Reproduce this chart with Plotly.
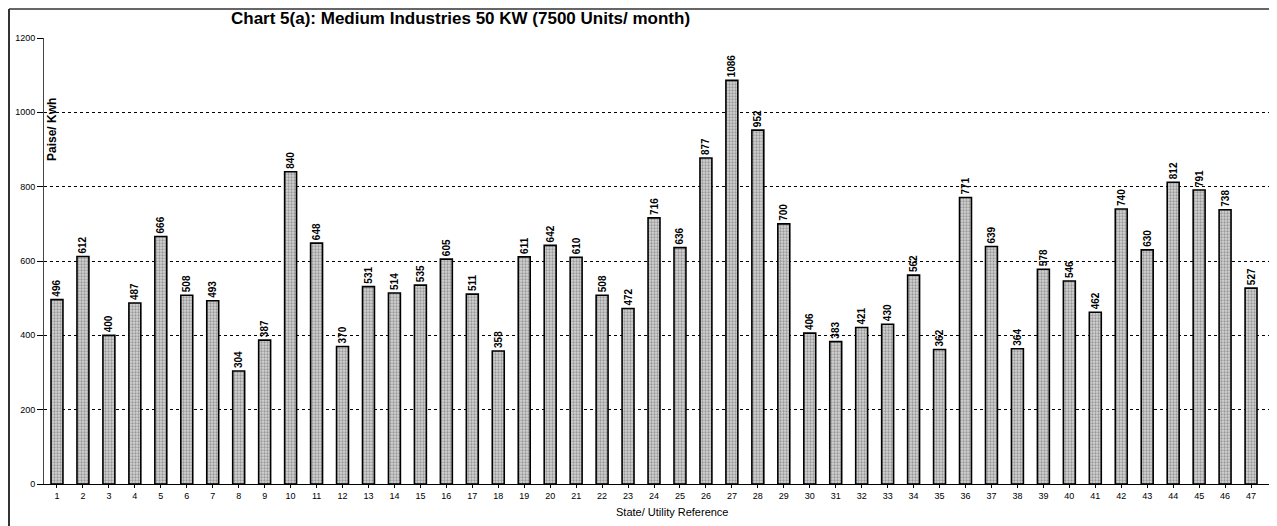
import plotly.graph_objects as go

categories = [str(i) for i in range(1, 49)]
values = [496, 612, 400, 487, 666, 508, 493, 304, 387, 840, 648, 370, 531, 514, 535, 605,
          511, 358, 611, 642, 610, 508, 472, 716, 636, 877, 1086, 952, 700, 406, 383, 421,
          430, 562, 362, 771, 639, 364, 578, 546, 462, 740, 630, 812, 791, 738, 527, 488]
y_ticks = [0, 200, 400, 600, 800, 1000, 1200]
title_text = "Chart 5(a): Medium Industries 50 KW (7500 Units/ month)"
y_title = "Paise/ Kwh"
x_title = "State/ Utility Reference"

OFF = 8  # page body margin
W, H = 1277 - OFF, 526 - OFF
L, R, T = 44 - OFF, 0, 38 - OFF
B = H - (484 - OFF)
pw, ph = W - L - R, H - T - B

def px_x(p):  # screen px -> paper
    return (p - OFF - L) / pw

def px_y(p):
    return 1 - (p - OFF - T) / ph

fig = go.Figure(go.Bar(
    x=list(range(1, 49)), y=values,
    text=[str(v) for v in values],
    textposition="outside", textangle=-90,
    textfont=dict(family="Arial, Liberation Sans", size=10, color="black", weight="bold"),
    constraintext="none", cliponaxis=False,
    marker=dict(color="#bdbdbd",
                line=dict(color="black", width=1.6),
                pattern=dict(shape=".", fgcolor="#5a5a5a", bgcolor="#d4d4d4", size=3, solidity=0.45)),
))

fig.update_layout(
    width=W, height=H,
    margin=dict(l=L, r=R, t=T, b=B, autoexpand=False),
    paper_bgcolor="white", plot_bgcolor="white",
    bargap=0.54, showlegend=False,
    font=dict(family="Arial, Liberation Sans", color="black"),
    xaxis=dict(range=[0.5, 48.0], tickmode="array", tickvals=list(range(1, 49)), ticktext=categories,
               showline=True, linecolor="black", linewidth=1, ticks="outside", ticklen=3,
               tickson="boundaries", tickcolor="black", showgrid=False, automargin=False,
               tickfont=dict(size=9), zeroline=False),
    yaxis=dict(range=[0, 1200], tickvals=y_ticks, showline=True, linecolor="#444444", linewidth=1,
               ticks="outside", ticklen=6, tickcolor="black", automargin=False,
               showgrid=True, gridcolor="black", gridwidth=1, griddash="dot",
               tickfont=dict(size=9), zeroline=False),
    annotations=[
        dict(text="<b>" + title_text + "</b>", xref="paper", yref="paper",
             x=px_x(461), y=px_y(18), xanchor="center", yanchor="middle", showarrow=False,
             font=dict(size=17)),
        dict(text="<b>" + y_title + "</b>", xref="paper", yref="paper", textangle=-90,
             x=px_x(52), y=px_y(130), xanchor="center", yanchor="middle", showarrow=False,
             font=dict(size=12)),
        dict(text=x_title, xref="paper", yref="paper",
             x=px_x(672), y=px_y(512), xanchor="center", yanchor="middle", showarrow=False,
             font=dict(size=11)),
    ],
    shapes=[
        dict(type="line", xref="paper", yref="paper", x0=px_x(OFF + 1), x1=1.0, y0=px_y(OFF + 1), y1=px_y(OFF + 1),
             line=dict(color="#666666", width=2)),
        dict(type="line", xref="paper", yref="paper", x0=px_x(OFF + 1), x1=px_x(OFF + 1), y0=px_y(OFF + 1), y1=px_y(526),
             line=dict(color="#333333", width=2)),
    ],
)

fig.write_html("out.html")
